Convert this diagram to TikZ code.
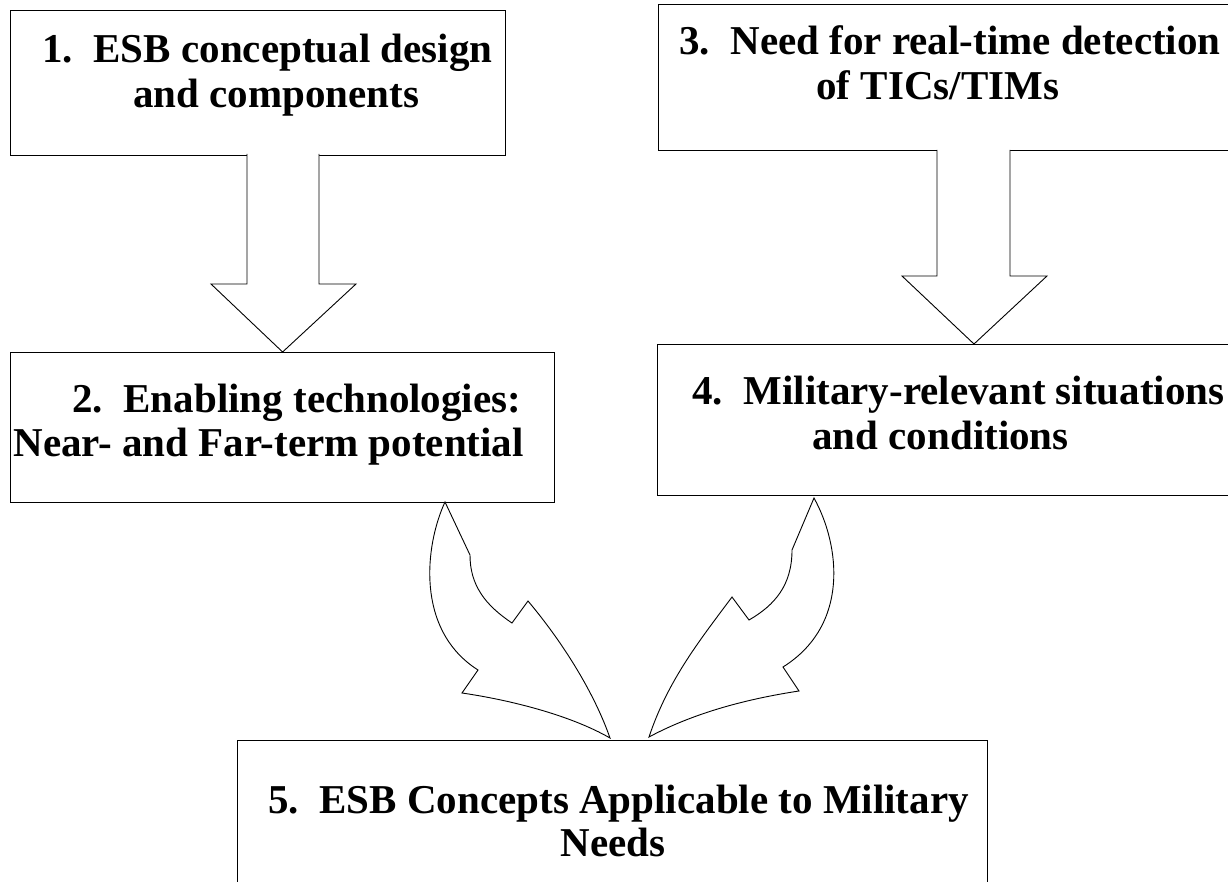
\documentclass[tikz,border=0pt]{standalone}
\usepackage{fontspec}
\setmainfont{Liberation Serif}
\begin{document}
\begin{tikzpicture}[x=0.5pt,y=-0.5pt,
  box/.style={draw,line width=0.6pt,inner sep=0pt,anchor=north west},
  lbl/.style={anchor=base west,inner sep=0pt,font=\fontsize{20.5}{22}\selectfont\bfseries},
  blk/.style={draw,line width=0.45pt,line join=miter,fill=white}]
\clip (0,0) rectangle (1228,882);
\fill[white] (0,0) rectangle (1228,882);
% boxes
\node[box,minimum width=247.5pt,minimum height=72.5pt] (b1) at (10,10) {};
\node[box,minimum width=272pt,minimum height=75pt] (b2) at (10,352) {};
\node[box,minimum width=320pt,minimum height=73pt] (b3) at (658,4) {};
\node[box,minimum width=320pt,minimum height=75.5pt] (b4) at (657,344) {};
\node[box,minimum width=375pt,minimum height=100pt] (b5) at (237,740) {};
% texts
\node[lbl] (t1a) at (42,63) {1.\ \ ESB conceptual design};
\node[lbl] (t1b) at (133,108) {and components};
\node[lbl] (t2a) at (72,413) {2.\ \ Enabling technologies:};
\node[lbl] (t2b) at (13,457) {Near- and Far-term potential};
\node[lbl] (t3a) at (679,55) {3.\ \ Need for real-time detection};
\node[lbl] (t3b) at (816,100) {of TICs/TIMs};
\node[lbl] (t4a) at (692,405) {4.\ \ Military-relevant situations};
\node[lbl] (t4b) at (812,450) {and conditions};
\node[lbl] (t5a) at (268,813) {5.\ \ ESB Concepts Applicable to Military};
\node[lbl] (t5b) at (560,856) {Needs};
% straight block arrows
\draw[blk] (247,154) -- (247,284) -- (211,284) -- (b2.north) -- (356,284) -- (319,284) -- (319,154);
\draw[blk] (937,150) -- (937,276) -- (902,276) -- (974,344) -- (1047,276) -- (1010,276) -- (1010,150);
% curved block arrows
\coordinate (l0) at (445,502);
\coordinate (ltip) at (610,738);
\draw[blk] (l0) .. controls (425,545) and (415,630) .. (478,670) -- (462,693)
  .. controls (510,700) and (570,715) .. (ltip)
  .. controls (595,695) and (565,645) .. (528,601) -- (512,623)
  .. controls (485,605) and (470,585) .. (470,555) -- cycle;
\coordinate (r0) at (814,498);
\coordinate (rtip) at (649,737);
\draw[blk] (r0) .. controls (840,545) and (850,625) .. (783,667) -- (799,691)
  .. controls (740,700) and (690,715) .. (rtip)
  .. controls (668,680) and (700,640) .. (732,597) -- (749,620)
  .. controls (775,605) and (792,585) .. (792,550) -- cycle;
\end{tikzpicture}
\end{document}
